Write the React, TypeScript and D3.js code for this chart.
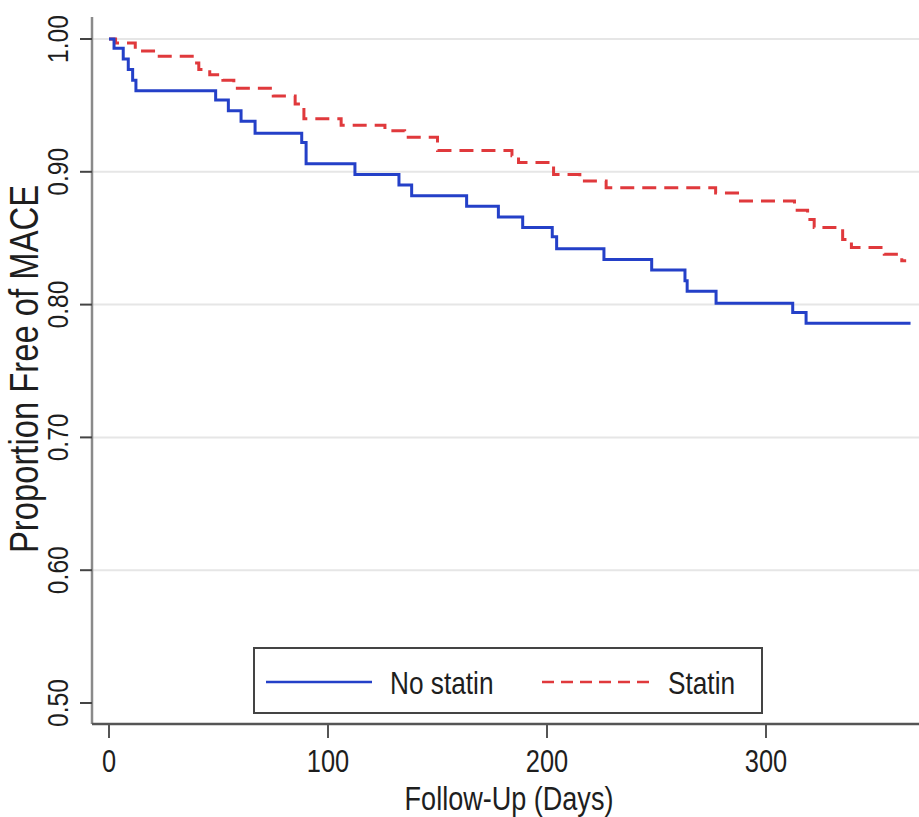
import React from "react";
import * as d3 from "d3";

const W = 919;
const H = 817;

// Axis ticks
const yTicks = [1.0, 0.9, 0.8, 0.7, 0.6, 0.5];
const yGrid = [1.0, 0.9, 0.8, 0.7, 0.6];
const xTicks = [0, 100, 200, 300];

// Kaplan-Meier estimates: event day and survival after that event
const noStatinDays = [0, 2.3, 6.5, 8.8, 10.8, 12.3, 48.7, 54.5, 60.3, 66.7, 88, 90, 112.3, 132.4, 138.2, 163.3, 177.8, 188.9, 202.4, 204.4, 226, 247.8, 263, 264, 277.2, 312.2, 318.3];
const noStatinSurv = [1.0, 0.993, 0.985, 0.977, 0.969, 0.961, 0.954, 0.946, 0.938, 0.929, 0.922, 0.906, 0.898, 0.89, 0.882, 0.874, 0.866, 0.858, 0.851, 0.842, 0.834, 0.826, 0.818, 0.81, 0.801, 0.794, 0.786];
const noStatinEnd = 366;

const statinDays = [0, 3, 12, 22, 38, 41, 46, 52, 57, 75, 85, 89, 106, 126, 135, 150, 184, 187, 203, 215, 227, 277, 287, 313, 319, 322, 335, 339, 354, 362];
const statinSurv = [1.0, 0.997, 0.991, 0.987, 0.982, 0.977, 0.973, 0.969, 0.963, 0.957, 0.951, 0.94, 0.935, 0.931, 0.926, 0.916, 0.912, 0.907, 0.898, 0.893, 0.888, 0.884, 0.878, 0.871, 0.864, 0.858, 0.849, 0.843, 0.838, 0.833];
const statinEnd = 364;

const legendLabels = ["No statin", "Statin"];

const BLUE = "#2440c8";
const RED = "#e0393c";
const FONT = "'Liberation Sans', Arial, Helvetica, sans-serif";
const NARROW = 0.82;

const plot = { left: 92, top: 17, right: 919, bottom: 724 };

export default function App() {
  const x = d3.scaleLinear().domain([0, 370]).range([109, 109 + 370 * 2.19]);
  const y = d3.scaleLinear().domain([0.5, 1.0]).range([703, 39]);

  const stepLine = d3
    .line<[number, number]>()
    .x((d) => x(d[0]))
    .y((d) => y(d[1]))
    .curve(d3.curveStepAfter);

  const series = (days: number[], surv: number[], end: number) => {
    const pts: [number, number][] = days.map((d, i) => [d, surv[i]]);
    pts.push([end, surv[surv.length - 1]]);
    return stepLine(pts) || "";
  };

  const narrowText = (
    tx: number,
    ty: number,
    txt: string,
    size: number,
    rotate = 0,
    anchor: "start" | "middle" | "end" = "middle"
  ) => (
    <text
      transform={`translate(${tx},${ty}) rotate(${rotate}) scale(${NARROW},1)`}
      textAnchor={anchor}
      fontSize={size}
      fontFamily={FONT}
      fill="#1e1e1e"
    >
      {txt}
    </text>
  );

  const legend = { x: 254, y: 648, w: 508, h: 65 };

  return (
    <svg
      width={W}
      height={H}
      style={{ position: "absolute", left: 0, top: 0, background: "#fff" }}
    >
      <rect x={0} y={0} width={W} height={H} fill="#fff" />

      {/* grid */}
      {yGrid.map((t) => (
        <line
          key={`g${t}`}
          x1={plot.left}
          x2={plot.right}
          y1={y(t)}
          y2={y(t)}
          stroke="#e6e6e6"
          strokeWidth={2}
        />
      ))}

      {/* curves */}
      <path
        d={series(statinDays, statinSurv, statinEnd)}
        fill="none"
        stroke={RED}
        strokeWidth={3}
        strokeDasharray="14 8"
      />
      <path
        d={series(noStatinDays, noStatinSurv, noStatinEnd)}
        fill="none"
        stroke={BLUE}
        strokeWidth={3}
      />

      {/* axes */}
      <line x1={plot.left} x2={plot.left} y1={plot.top} y2={plot.bottom} stroke="#8a8a8a" strokeWidth={2.5} />
      <line x1={plot.left} x2={plot.right} y1={plot.bottom} y2={plot.bottom} stroke="#555" strokeWidth={2.5} />

      {yTicks.map((t) => (
        <g key={`y${t}`}>
          <line x1={plot.left - 12} x2={plot.left} y1={y(t)} y2={y(t)} stroke="#444" strokeWidth={2} />
          {narrowText(68, y(t), d3.format(".2f")(t), 30, -90)}
        </g>
      ))}
      {xTicks.map((t) => (
        <g key={`x${t}`}>
          <line x1={x(t)} x2={x(t)} y1={plot.bottom} y2={plot.bottom + 14} stroke="#555" strokeWidth={2} />
          {narrowText(x(t), 772, String(t), 31)}
        </g>
      ))}

      {narrowText(509, 810, "Follow-Up (Days)", 33)}
      {narrowText(38, 369, "Proportion Free of MACE", 40, -90)}

      {/* legend */}
      <rect
        x={legend.x}
        y={legend.y}
        width={legend.w}
        height={legend.h}
        fill="#fff"
        stroke="#444"
        strokeWidth={2}
      />
      <line x1={266} x2={372} y1={682} y2={682} stroke={BLUE} strokeWidth={2.5} />
      {narrowText(390, 694, legendLabels[0], 32, 0, "start")}
      <line x1={542} x2={655} y1={682} y2={682} stroke={RED} strokeWidth={2.5} strokeDasharray="12 7" />
      {narrowText(668, 694, legendLabels[1], 32, 0, "start")}
    </svg>
  );
}
